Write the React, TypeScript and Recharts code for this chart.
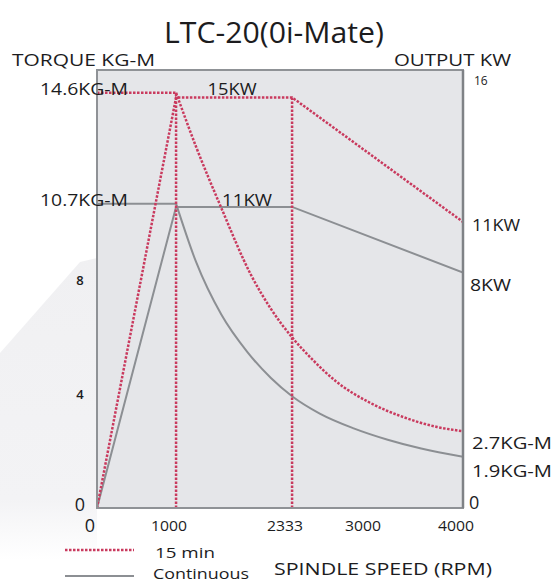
import React from 'react';
import { ComposedChart, Line, XAxis, YAxis, ReferenceArea, LabelList } from 'recharts';

// ---------- data ----------
const rpmTicks = [0, 1000, 2333, 3000, 4000];
// the drawn speed axis is not linear: share of the axis length at each tick
const rpmTickShare = [0, 0.216, 0.533, 0.746, 1];
const torqueTicks = [0, 4, 8, 10.7, 14.6];
const powerTicks = [0, 16];

const power15Rpm = [0, 1000, 2333, 4000];
const power15Kw = [0, 15, 15, 10.45];
const power15Notes = ['', '15KW', '', '11KW'];

const powerContRpm = [0, 1000, 2333, 4000];
const powerContKw = [0, 11, 11, 8.6];
const powerContNotes = ['', '11KW', '', '8KW'];

// constant-torque part (0 - 1000 rpm)
const torque15FlatRpm = [0, 1000];
const torque15FlatKgm = [14.6, 14.6];
const torqueContFlatRpm = [0, 1000];
const torqueContFlatKgm = [10.7, 10.7];

// falling-torque part (1000 - 4000 rpm)
const torque15Rpm = [1000, 1230, 1520, 1860, 2090, 2333, 2500, 2710, 3000, 3355, 3720, 4000];
const torque15Kgm = [14.6, 12.7, 10.55, 8.2, 7.0, 6.0, 5.25, 4.45, 3.7, 3.2, 2.85, 2.7];
const torque15Notes = ['', '', '', '', '', '', '', '', '', '', '', '2.7KG-M'];

const torqueContRpm = [1000, 1230, 1520, 1820, 2090, 2333, 2570, 2860, 3190, 3550, 4000];
const torqueContKgm = [10.7, 8.65, 6.8, 5.48, 4.57, 3.93, 3.32, 2.8, 2.4, 2.09, 1.8];
const torqueContNotes = ['', '', '', '', '', '', '', '', '', '', '1.9KG-M'];

const baseSpeedRpm = [1000, 1000];
const baseSpeedKgm = [0, 14.6];
const cornerSpeedRpm = [2333, 2333];
const cornerSpeedKw = [0, 15];

// ---------- helpers ----------
const zip = (xs: number[], ys: number[], notes?: string[]) =>
  xs.map((x, i) => ({ rpm: x, v: ys[i], note: notes ? notes[i] : '' }));

function piecewiseScale(breaks: number[], shares: number[]): any {
  let dom: number[] = [breaks[0], breaks[breaks.length - 1]];
  let rng: number[] = [0, 1];
  const toShare = (v: number) => {
    let i = 0;
    while (i < breaks.length - 2 && v > breaks[i + 1]) i++;
    const t = (v - breaks[i]) / (breaks[i + 1] - breaks[i]);
    return shares[i] + t * (shares[i + 1] - shares[i]);
  };
  const fromShare = (f: number) => {
    let i = 0;
    while (i < shares.length - 2 && f > shares[i + 1]) i++;
    const t = (f - shares[i]) / (shares[i + 1] - shares[i]);
    return breaks[i] + t * (breaks[i + 1] - breaks[i]);
  };
  const s: any = (v: any) => rng[0] + toShare(Number(v)) * (rng[1] - rng[0]);
  s.domain = function (d?: number[]) {
    if (!arguments.length) return dom.slice();
    dom = Array.from(d as number[]);
    return s;
  };
  s.range = function (r?: number[]) {
    if (!arguments.length) return rng.slice();
    rng = Array.from(r as number[]);
    return s;
  };
  s.copy = () => piecewiseScale(breaks, shares).domain(dom).range(rng);
  s.ticks = () => breaks.slice();
  s.tickFormat = () => (v: number) => String(v);
  s.invert = (px: number) => fromShare((px - rng[0]) / (rng[1] - rng[0]));
  s.clamp = function () {
    if (!arguments.length) return false;
    return s;
  };
  s.nice = () => s;
  return s;
}

const xScale = piecewiseScale(rpmTicks, rpmTickShare);

const FONT = "'Open Sans', 'Noto Sans', sans-serif";
const INK = '#1c1c1e';
const RED = '#c93a5e';
const GREY = '#8c8f93';
const AXIS = '#8f9296';

// ---------- ticks ----------
const LeftTick = (p: any) => {
  const { x, y, payload } = p;
  const v = payload.value;
  if (v === 14.6 || v === 10.7) {
    return (
      <text x={x + 31} y={y + 2} textAnchor="end" fontSize={17} fill={INK} fontFamily={FONT}
        textLength={88} lengthAdjust="spacingAndGlyphs">{`${v}KG-M`}</text>
    );
  }
  const big = v === 0;
  return (
    <text x={x - 17} y={y + (big ? 3 : 5)} textAnchor="middle" fontSize={big ? 18 : 13} fontWeight={big ? 400 : 600}
      fill={INK} fontFamily={FONT}>
      {v}
    </text>
  );
};

const RightTick = (p: any) => {
  const { x, y, payload } = p;
  const v = payload.value;
  if (v === 0) {
    return (
      <text x={x + 6} y={y + 1} textAnchor="start" fontSize={18} fill={INK} fontFamily={FONT}>0</text>
    );
  }
  return (
    <text x={x + 11} y={y + 15} textAnchor="start" fontSize={12} fill={INK} fontFamily={FONT}>{v}</text>
  );
};

const BottomTick = (p: any) => {
  const { x, y, payload } = p;
  const v = payload.value;
  if (v === 0) {
    return (
      <text x={x - 7} y={y + 24} textAnchor="middle" fontSize={18} fill={INK} fontFamily={FONT}>0</text>
    );
  }
  return (
    <text x={x - 7} y={y + 23} textAnchor="middle" fontSize={14} fill={INK} fontFamily={FONT}
      textLength={36} lengthAdjust="spacingAndGlyphs">{v}</text>
  );
};

// ---------- notes on curves ----------
const noteStyle: Record<string, { dx: number; dy: number; anchor: string; len: number }> = {
  '15KW': { dx: 56, dy: -2, anchor: 'middle', len: 49 },
  '11KW': { dx: 71, dy: -1, anchor: 'middle', len: 50 },
  '8KW': { dx: 7, dy: 18, anchor: 'start', len: 41 },
  '2.7KG-M': { dx: 9, dy: 18, anchor: 'start', len: 80 },
  '1.9KG-M': { dx: 9, dy: 20, anchor: 'start', len: 80 },
};
const endNote11 = { dx: 9, dy: 9, anchor: 'start', len: 48 };

const NoteFor = (p: any) => {
  const { x, y, value, index } = p;
  if (!value) return null;
  const st = value === '11KW' && index === 3 ? endNote11 : noteStyle[value];
  if (!st) return null;
  return (
    <text x={x + st.dx} y={y + st.dy} textAnchor={st.anchor as any} fontSize={17} fill={INK} fontFamily={FONT}
      textLength={st.len} lengthAdjust="spacingAndGlyphs">{value}</text>
  );
};

const power15Data = zip(power15Rpm, power15Kw, power15Notes);
const powerContData = zip(powerContRpm, powerContKw, powerContNotes);
const torque15FlatData = zip(torque15FlatRpm, torque15FlatKgm);
const torqueContFlatData = zip(torqueContFlatRpm, torqueContFlatKgm);
const torque15Data = zip(torque15Rpm, torque15Kgm, torque15Notes);
const torqueContData = zip(torqueContRpm, torqueContKgm, torqueContNotes);
const baseData = zip(baseSpeedRpm, baseSpeedKgm);
const cornerData = zip(cornerSpeedRpm, cornerSpeedKw);

export default function App() {
  const dash = '2.5 1.5';
  const redProps = { stroke: RED, strokeWidth: 2.5, strokeDasharray: dash, dot: false, isAnimationActive: false };
  const greyProps = { stroke: GREY, strokeWidth: 2, dot: false, isAnimationActive: false };
  return (
    <div style={{ position: 'absolute', left: 0, top: 0, width: 553, height: 583, background: '#ffffff', overflow: 'hidden' }}>
      <svg width={553} height={583} style={{ position: 'absolute', left: 0, top: 0 }}>
        <defs>
          <linearGradient id="paper" x1="0" y1="0" x2="0" y2="1">
            <stop offset="0" stopColor="#f0f0f2" />
            <stop offset="0.8" stopColor="#f3f3f5" />
            <stop offset="1" stopColor="#ffffff" />
          </linearGradient>
        </defs>
        <polygon points="0,353 80,262 97,258 97,560 0,560" fill="url(#paper)" />
      </svg>
      <div style={{ position: 'absolute', left: 0, top: 0 }}>
        <ComposedChart width={553} height={583} margin={{ top: 70, right: 10, bottom: 45, left: 7 }}>
          <XAxis
            xAxisId="rpm"
            dataKey="rpm"
            type="number"
            domain={[0, 4000]}
            scale={xScale}
            ticks={rpmTicks}
            interval={0}
            height={30}
            tickSize={0}
            tickMargin={0}
            tickLine={false}
            axisLine={{ stroke: AXIS, strokeWidth: 2 }}
            tick={<BottomTick />}
            allowDataOverflow
          />
          <YAxis
            yAxisId="torque"
            orientation="left"
            type="number"
            domain={[0, 15.4]}
            ticks={torqueTicks}
            interval={0}
            width={90}
            tickSize={0}
            tickMargin={0}
            tickLine={false}
            axisLine={{ stroke: AXIS, strokeWidth: 2 }}
            tick={<LeftTick />}
            allowDataOverflow
          />
          <YAxis
            yAxisId="power"
            orientation="right"
            type="number"
            domain={[0, 16]}
            ticks={powerTicks}
            interval={0}
            width={80}
            tickSize={0}
            tickMargin={0}
            tickLine={false}
            axisLine={{ stroke: '#7f8286', strokeWidth: 2.5 }}
            tick={<RightTick />}
            allowDataOverflow
          />
          <ReferenceArea xAxisId="rpm" yAxisId="power" x1={0} x2={4000} y1={0} y2={16}
            fill="#e5e6e9" fillOpacity={1} stroke={AXIS} strokeWidth={2} ifOverflow="visible" />

          <Line xAxisId="rpm" yAxisId="power" data={powerContData} dataKey="v" type="linear" {...greyProps}>
            <LabelList dataKey="note" content={<NoteFor />} />
          </Line>
          <Line xAxisId="rpm" yAxisId="torque" data={torqueContFlatData} dataKey="v" type="linear" {...greyProps} />
          <Line xAxisId="rpm" yAxisId="torque" data={torqueContData} dataKey="v" type="monotone" {...greyProps}>
            <LabelList dataKey="note" content={<NoteFor />} />
          </Line>

          <Line xAxisId="rpm" yAxisId="torque" data={baseData} dataKey="v" type="linear" {...redProps} />
          <Line xAxisId="rpm" yAxisId="power" data={cornerData} dataKey="v" type="linear" {...redProps} />
          <Line xAxisId="rpm" yAxisId="power" data={power15Data} dataKey="v" type="linear" {...redProps}>
            <LabelList dataKey="note" content={<NoteFor />} />
          </Line>
          <Line xAxisId="rpm" yAxisId="torque" data={torque15FlatData} dataKey="v" type="linear" {...redProps} />
          <Line xAxisId="rpm" yAxisId="torque" data={torque15Data} dataKey="v" type="monotone" {...redProps}>
            <LabelList dataKey="note" content={<NoteFor />} />
          </Line>
        </ComposedChart>
      </div>
      <svg width={553} height={583} style={{ position: 'absolute', left: 0, top: 0, pointerEvents: 'none' }}>
        <text x={274} y={43} textAnchor="middle" fontSize={29} fill={INK} fontFamily={FONT}
          textLength={220} lengthAdjust="spacingAndGlyphs">LTC-20(0i-Mate)</text>
        <text x={12} y={66} fontSize={17} fontWeight={500} fill={INK} fontFamily={FONT}
          textLength={143} lengthAdjust="spacingAndGlyphs">TORQUE  KG-M</text>
        <text x={394} y={66} fontSize={17} fontWeight={500} fill={INK} fontFamily={FONT}
          textLength={117} lengthAdjust="spacingAndGlyphs">OUTPUT  KW</text>

        <line x1={65} y1={550} x2={134} y2={550} stroke={RED} strokeWidth={2.5} strokeDasharray={dash} />
        <text x={155} y={558} fontSize={15} fill={INK} fontFamily={FONT}
          textLength={60} lengthAdjust="spacingAndGlyphs">15 min</text>
        <line x1={65} y1={576} x2={134} y2={576} stroke={GREY} strokeWidth={2} />
        <text x={153} y={579} fontSize={15} fill={INK} fontFamily={FONT}
          textLength={96} lengthAdjust="spacingAndGlyphs">Continuous</text>
        <text x={274} y={575} fontSize={17} fill={INK} fontFamily={FONT}
          textLength={218} lengthAdjust="spacingAndGlyphs">SPINDLE  SPEED  (RPM)</text>
      </svg>
    </div>
  );
}
